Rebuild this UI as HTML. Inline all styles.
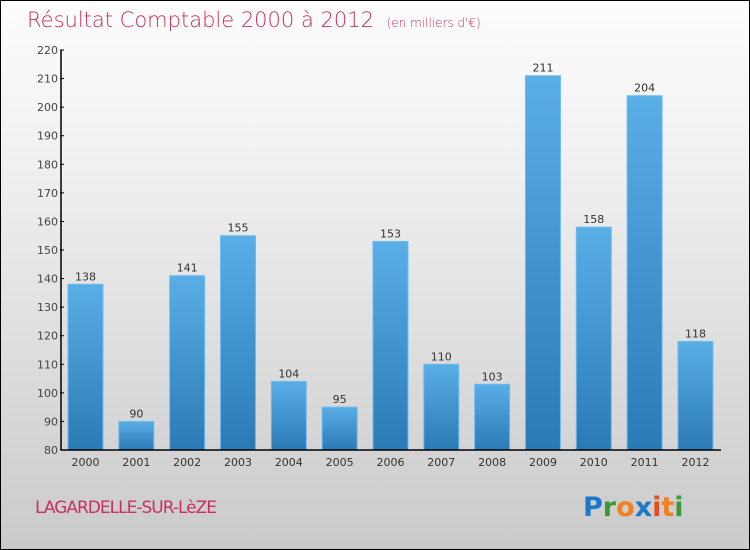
<!DOCTYPE html>
<html><head><meta charset="utf-8"><style>
body{margin:0}
#c{position:relative;width:748px;height:548px;border:1px solid #000;background:linear-gradient(#fdfdfd,#f0f0f0 30%,#cacaca);font-family:"DejaVu Sans","Liberation Sans",sans-serif;overflow:hidden}
</style></head><body>
<div id="c">
<svg width="748" height="548" style="position:absolute;left:0;top:0" id="svg">
<defs><linearGradient id="g" x1="0" y1="0" x2="0" y2="1"><stop offset="0" stop-color="#5aaee6"/><stop offset="1" stop-color="#2a7ab6"/></linearGradient></defs>
<text x="26" y="26" font-size="21" fill="#c8305e" font-weight="200">Résultat Comptable 2000 à 2012 <tspan font-size="12" dx="6">(en milliers d'€)</tspan></text>
<text x="34" y="512" font-size="17" fill="#c8305e" letter-spacing="-1">LAGARDELLE-SUR-LèZE</text>
<text x="582" y="515" font-size="27" font-weight="bold"><tspan fill="#1e78c8">P</tspan><tspan fill="#3a9a3a">r</tspan><tspan fill="#f08020">o</tspan><tspan fill="#1e78c8">x</tspan><tspan fill="#e05020">i</tspan><tspan fill="#f08020">t</tspan><tspan fill="#3a9a3a">i</tspan></text>
<g id="plot"></g>
</svg>
</div>
<script>
const categories=["2000","2001","2002","2003","2004","2005","2006","2007","2008","2009","2010","2011","2012"];
const values=[138,90,141,155,104,95,153,110,103,211,158,204,118];
const ticks=[80,90,100,110,120,130,140,150,160,170,180,190,200,210,220];
const NS="http://www.w3.org/2000/svg";
const g=document.getElementById("plot");
const y=v=>449-(v-80)*(400/140);
const x=i=>84.5+i*50.83;
function el(t,a){const e=document.createElementNS(NS,t);for(const k in a)e.setAttribute(k,a[k]);g.appendChild(e);return e;}
ticks.forEach(t=>{
 const l=el("line",{x1:59,x2:63,y1:y(t),y2:y(t),stroke:"#000"});
 
 
 const tx=el("text",{x:57,y:y(t)+4,"font-size":11,fill:"#444","text-anchor":"end"});tx.textContent=t;
 
 
});
values.forEach((v,i)=>{
 const r=el("rect",{x:x(i)-17.5,y:y(v),width:35,height:y(80)-y(v),fill:"url(#g)",stroke:"#6cbcf0","stroke-width":1});
 
 
 const t=el("text",{x:x(i),y:y(v)-4,"font-size":11,fill:"#333","text-anchor":"middle"});t.textContent=v;
 
 
 const c=el("text",{x:x(i),y:465,"font-size":11,fill:"#333","text-anchor":"middle"});c.textContent=categories[i];
 
 
});
const ya=el("line",{x1:60,x2:60,y1:y(220),y2:y(80),stroke:"#000","stroke-width":1.5});


const xa=el("line",{x1:60,x2:720,y1:y(80),y2:y(80),stroke:"#000","stroke-width":1.5});


</script>
</body></html>
